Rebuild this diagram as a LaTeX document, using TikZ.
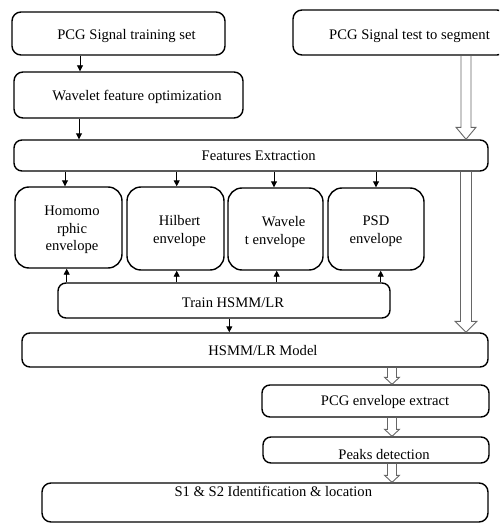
\documentclass[tikz,border=0pt]{standalone}
\usepackage{fontspec}
\setmainfont{Liberation Serif}
\usetikzlibrary{arrows.meta,calc}
\tikzset{
  box/.style={draw, line width=1.4pt, rounded corners=#1, inner sep=0pt},
  box/.default=9pt,
  txt/.style={inner sep=0pt, anchor=base, font=\fontsize{14.6}{17.5}\selectfont},
  arr/.style={line width=0.9pt, -{Triangle[length=6pt,width=6pt]}},
  hollowline/.style={draw=black!60, line width=0.9pt, line join=miter}
}
\newcommand\hollowarrow[5]{%
  \draw[hollowline] let \p1=#1, \p2=#2 in
    (\x1-#3pt,\y1) -- (\x1-#3pt,\y2+#5pt) -- (\x1-#4pt,\y2+#5pt) -- (\x1,\y2)
    -- (\x1+#4pt,\y2+#5pt) -- (\x1+#3pt,\y2+#5pt) -- (\x1+#3pt,\y1);}
\begin{document}
\begin{tikzpicture}[x=1pt,y=-1pt]
\useasboundingbox (0,0) rectangle (499,524);
\clip (0,0) rectangle (499,524);
% boxes
\node[box, minimum width=213pt, minimum height=43pt] (b1) at (118.5,33.5) {};
\node[box, minimum width=229pt, minimum height=46pt] (b2) at (128.5,95) {};
\node[box=8pt, minimum width=474pt, minimum height=31pt] (fe) at (251,155.5) {};
\node[box, minimum width=213pt, minimum height=45pt] (test) at (399.5,32.5) {};
\node[box=14pt, minimum width=107pt, minimum height=81pt] (e1) at (68.5,227.5) {};
\node[box=14pt, minimum width=97pt, minimum height=83pt] (e2) at (175.5,228.5) {};
\node[box=14pt, minimum width=95pt, minimum height=82pt] (e3) at (275.5,229) {};
\node[box=14pt, minimum width=96pt, minimum height=82pt] (e4) at (376,229) {};
\node[box=8pt, minimum width=332pt, minimum height=35pt] (tr) at (224,300.5) {};
\node[box=8pt, minimum width=466pt, minimum height=34pt] (hm) at (255,350) {};
\node[box=8pt, minimum width=227pt, minimum height=32pt] (pe) at (375.5,401) {};
\node[box=8pt, minimum width=226pt, minimum height=26pt] (pk) at (376,450) {};
\node[box=9pt, minimum width=446pt, minimum height=39pt] (s1) at (265,502.5) {};
% texts
\node[txt] (t1) at (126.5,40) {PCG Signal training set};
\node[txt] (t2) at (137,101) {Wavelet feature optimization};
\node[txt] (tfe) at (258.7,160.7) {Features Extraction};
\node[txt] (ttest) at (409.5,39.3) {PCG Signal test to segment};
\node[txt, align=center] (te1) at (72,250.7) {Homomo\\rphic\\envelope};
\node[txt, align=center] (te2) at (179.5,243.3) {Hilbert\\envelope};
\node[txt, align=right, anchor=base east] (te3) at (305.5,244) {Wavele\\t envelope};
\node[txt, align=center] (te4) at (376,243.3) {PSD\\envelope};
\node[txt] (ttr) at (233,307.3) {Train HSMM/LR};
\node[txt] (thm) at (263,355) {HSMM/LR Model};
\node[txt] (tpe) at (385,405.7) {PCG envelope extract};
\node[txt] (tpk) at (384,459) {Peaks detection};
\node[txt] (ts1) at (273.3,496.7) {S1 \& S2 Identification \& location};
% x positions of connectors
\coordinate (xa) at (80,0);
\coordinate (xb) at (79,0);
\coordinate (d1) at (65,0);
\coordinate (d2) at (176.7,0);
\coordinate (d3) at (274,0);
\coordinate (d4) at (376,0);
\coordinate (u1) at (66.7,0);
\coordinate (u2) at (176.7,0);
\coordinate (u3) at (276.7,0);
\coordinate (u4) at (380.7,0);
\coordinate (xm) at (229.3,0);
\coordinate (xh) at (466,0);
\coordinate (xs) at (392,0);
% plain arrows
\draw[arr] (b1.south -| xa) -- (b2.north -| xa);
\draw[arr] (b2.south -| xb) -- (fe.north -| xb);
\draw[arr] (fe.south -| d1) -- (e1.north -| d1);
\draw[arr] (fe.south -| d2) -- (e2.north -| d2);
\draw[arr] (fe.south -| d3) -- (e3.north -| d3);
\draw[arr] (fe.south -| d4) -- (e4.north -| d4);
\draw[arr] (tr.north -| u1) -- (e1.south -| u1);
\draw[arr] (tr.north -| u2) -- (e2.south -| u2);
\draw[arr] (tr.north -| u3) -- (e3.south -| u3);
\draw[arr] (tr.north -| u4) -- (e4.south -| u4);
\draw[arr] (tr.south -| xm) -- (hm.north -| xm);
% hollow arrows
\hollowarrow{(test.south -| xh)}{(fe.north -| xh)}{5}{10}{12}
\hollowarrow{(fe.south -| xh)}{(hm.north -| xh)}{5.5}{11}{11}
\hollowarrow{(hm.south -| xs)}{(pe.north -| xs)}{4.5}{7.5}{7}
\hollowarrow{(pe.south -| xs)}{(pk.north -| xs)}{4.5}{7.5}{7}
\hollowarrow{(pk.south -| xs)}{(s1.north -| xs)}{4.5}{7.5}{7}
\end{tikzpicture}
\end{document}
